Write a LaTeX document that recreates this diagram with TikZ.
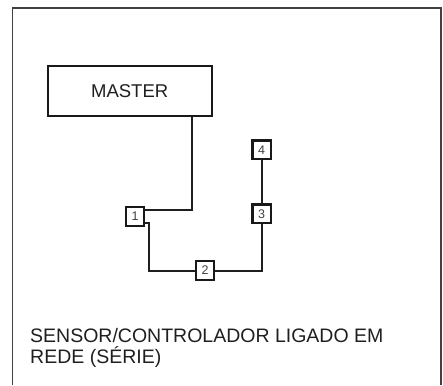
\documentclass[tikz,border=0pt]{standalone}
\usepackage{fontspec}
\setmainfont{Liberation Sans}
\begin{document}
\begin{tikzpicture}[x=1pt,y=-1pt,
  wire/.style={line width=2pt, draw=black!88},
  numbox/.style={draw=black!90, line width=2.2pt, minimum size=18.5pt, inner sep=0pt, font=\fontsize{12.5}{12.5}\selectfont, text=black!75},
  frame/.style={line width=1.6pt, draw=black!75},
  lbl/.style={font=\fontsize{19.5}{21}\selectfont, text=black!88, inner sep=0pt, anchor=base west}
]
\useasboundingbox (0,0) rectangle (443,385);
\draw[frame] (12.5,385) -- (12.5,8) -- (441,8) -- (441,385);
\node[draw=black!90, line width=2.2pt, minimum width=164pt, minimum height=50.5pt, inner sep=0pt,
      font=\fontsize{18.5}{18.5}\selectfont, text=black!88] (master) at (129.7,91) {MASTER\hspace{7pt}};
\node[numbox] (b1) at (135,216.6) {1};
\node[numbox] (b2) at (205,270.5) {2};
\node[numbox] (b3) at (261.7,213.8) {3};
\node[numbox] (b4) at (261.7,149.7) {4};
\draw[wire] ([yshift=6.3pt]b1.east) -| ([xshift=62pt]master.south);
\draw[wire] ([yshift=-6.3pt]b1.east) -- ++(4,0) |- (b2.west);
\draw[wire] (b2.east) -| (b3.south);
\draw[wire] (b3.north) -- (b4.south);
\node[lbl] (t1) at (30,342.7) {SENSOR/CONTROLADOR LIGADO EM};
\node[lbl] (t2) at (30,363.5) {REDE (SÉRIE)};
\end{tikzpicture}
\end{document}
